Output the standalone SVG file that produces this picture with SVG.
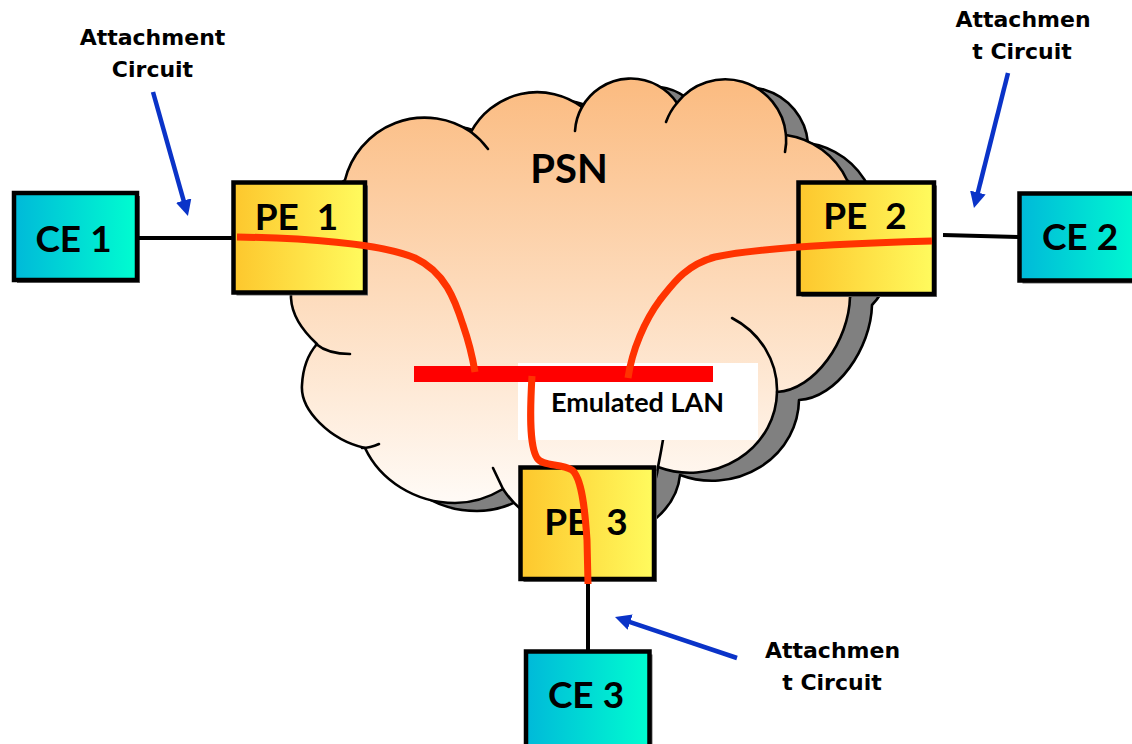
<svg xmlns="http://www.w3.org/2000/svg" xmlns:xlink="http://www.w3.org/1999/xlink" width="1132" height="744" viewBox="0 0 1132 744">
  <style>
    .outline { stroke: #000; stroke-width: 2.6; stroke-linejoin: round; }
    .curl { fill: none; stroke: #000; stroke-width: 2.6; stroke-linecap: round; }
    .box { stroke: #000; stroke-width: 4.5; }
    .boxshadow { fill: #6e6e6e; }
    .pe { fill: url(#peGrad); }
    .ce { fill: url(#ceGrad); }
    .boxlbl { font-family: Lato, "DejaVu Sans", sans-serif; font-weight: bold; font-size: 37px; fill: #000; text-anchor: middle; white-space: pre; }
    .note { font-family: "DejaVu Sans", Lato, sans-serif; font-weight: bold; font-size: 22px; fill: #000; text-anchor: middle; white-space: pre; }
    .link { stroke: #000; stroke-width: 4; fill: none; }
    .pw { stroke: #ff3300; stroke-width: 7; fill: none; stroke-linecap: butt; }
    .ptr { stroke: #0a33c8; stroke-width: 4.5; fill: none; marker-end: url(#head); }
  </style>
  <defs>
    <linearGradient id="cloudGrad" gradientUnits="userSpaceOnUse" x1="0" y1="80" x2="0" y2="505">
      <stop offset="0" stop-color="#fbbb80"/>
      <stop offset="1" stop-color="#fffbf7"/>
    </linearGradient>
    <linearGradient id="peGrad" x1="0" y1="0" x2="1" y2="0">
      <stop offset="0" stop-color="#fdc72d"/>
      <stop offset="1" stop-color="#fffb5e"/>
    </linearGradient>
    <linearGradient id="ceGrad" x1="0" y1="0" x2="1" y2="0">
      <stop offset="0" stop-color="#00b9d9"/>
      <stop offset="1" stop-color="#00fdd0"/>
    </linearGradient>
    <marker id="head" markerUnits="userSpaceOnUse" markerWidth="16" markerHeight="16" viewBox="0 0 16 16" refX="4" refY="8" orient="auto">
      <path d="M0,0 L16,8 L0,16 Z" fill="#0a33c8"/>
    </marker>
    <path id="cloudShape" d="M317,344 C305,333 292,318 291,298 C290,250 310,205 345,180 A82,82 0 0 1 471,132 A75,75 0 0 1 582,107 A56,56 0 0 1 677,103 A61,61 0 0 1 786,135 A80,80 0 0 1 847,180 C878,212 878,268 850,297 C849,340 815,390 777,392 A87,82 0 0 1 658,467 C655,500 620,530 585,530 C545,530 520,515 503,489 C488,498 472,503 455,503 C415,503 380,480 365,448 C330,440 300,410 302,385 C303,365 310,352 317,344 Z"/>
  </defs>

  <g id="psn">
    <use xlink:href="#cloudShape" href="#cloudShape" transform="translate(22,8)" fill="#808080" class="outline"/>
    <use xlink:href="#cloudShape" href="#cloudShape" fill="url(#cloudGrad)" class="outline"/>
    <path class="curl" d="M316,344 Q328,354 350,354"/>
    <path class="curl" d="M362,448 Q370,448 379,444"/>
    <path class="curl" d="M503,489 L493,468"/>
    <path class="curl" d="M658,467 Q661,452 664,434"/>
    <path class="curl" d="M732,318 A87,82 0 0 1 777,392"/>
    <path class="curl" d="M786,135 A61,61 0 0 1 785,152"/>
    <path class="curl" d="M666,122 A61,61 0 0 1 677,103"/>
    <path class="curl" d="M575,131 A56,56 0 0 1 582,107"/>
    <path class="curl" d="M471,132 A82,82 0 0 1 488,149"/>
    <text x="569" y="183" font-family="Lato, 'DejaVu Sans', sans-serif" font-weight="bold" font-size="40" text-anchor="middle">PSN</text>
  </g>

  <g id="emulated-lan">
    <rect x="518" y="363" width="240" height="77" fill="#ffffff"/>
    <text x="637.5" y="412" font-family="Lato, 'DejaVu Sans', sans-serif" font-weight="bold" font-size="27" text-anchor="middle">Emulated LAN</text>
    <rect x="414" y="366" width="299" height="16" fill="#ff0000"/>
  </g>

  <g id="ce1">
    <rect class="boxshadow" x="17" y="196" width="123" height="87"/>
    <rect class="box ce" x="14" y="193" width="123" height="87"/>
    <text class="boxlbl" x="73.5" y="252">CE 1</text>
  </g>
  <g id="pe1">
    <rect class="boxshadow" x="236.5" y="185.5" width="131.5" height="110"/>
    <rect class="box pe" x="233.5" y="182.5" width="131.5" height="110"/>
    <text class="boxlbl" x="296.5" y="230" xml:space="preserve">PE  1</text>
  </g>
  <g id="pe2">
    <rect class="boxshadow" x="801.5" y="185.5" width="135.5" height="111.5"/>
    <rect class="box pe" x="798.5" y="182.5" width="135.5" height="111.5"/>
    <text class="boxlbl" x="865" y="229" xml:space="preserve">PE  2</text>
  </g>
  <g id="ce2">
    <rect class="boxshadow" x="1022.5" y="196.5" width="125" height="87"/>
    <rect class="box ce" x="1019.5" y="193.5" width="125" height="87"/>
    <text class="boxlbl" x="1080" y="250">CE 2</text>
  </g>
  <g id="pe3">
    <rect class="boxshadow" x="523.5" y="470.5" width="133.5" height="111.5"/>
    <rect class="box pe" x="520.5" y="467.5" width="133.5" height="111.5"/>
    <text class="boxlbl" x="586" y="535" xml:space="preserve">PE  3</text>
  </g>
  <g id="ce3">
    <rect class="boxshadow" x="529" y="654.5" width="123.5" height="100"/>
    <rect class="box ce" x="526" y="651.5" width="123.5" height="100"/>
    <text class="boxlbl" x="586" y="708">CE 3</text>
  </g>

  <g id="connectors">
    <path class="link" d="M137,238 L233,238"/>
    <path class="link" d="M943,235 L1019,237"/>
    <path class="link" d="M588,581 L588,651"/>
    <path class="pw" d="M237,237 C300,238 380,243 415,258 C445,272 455,300 463,325 C470,345 473,360 475,372"/>
    <path class="pw" d="M932,241 C860,243 760,247 715,257 C685,265 672,285 660,300 C645,320 632,350 628,378"/>
    <path class="pw" d="M532,376 C530,410 529,445 537,458 C543,467 560,463 572,470 C582,478 585,510 587,540 L588,584"/>
    <path class="ptr" d="M153,92 L184.7,204.4"/>
    <path class="ptr" d="M1008,73 L976.9,196.4"/>
    <path class="ptr" d="M737,658 L626.4,620.8"/>
  </g>

  <g id="labels">
    <text class="note" x="152.5" y="45">Attachment</text>
    <text class="note" x="152.5" y="77">Circuit</text>
    <text class="note" x="1023" y="27">Attachmen</text>
    <text class="note" x="1022" y="59">t Circuit</text>
    <text class="note" x="832.5" y="658">Attachmen</text>
    <text class="note" x="832" y="690">t Circuit</text>
  </g>
</svg>
